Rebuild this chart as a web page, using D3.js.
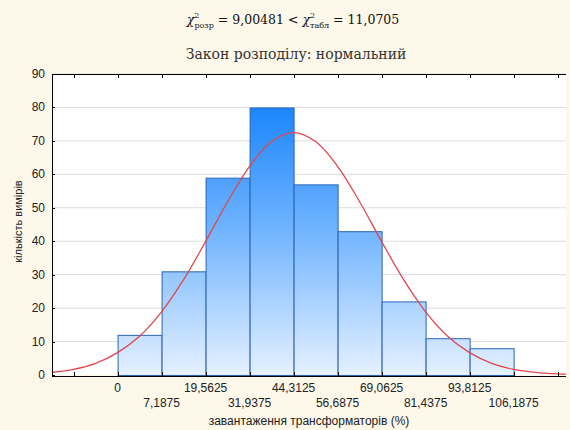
<!DOCTYPE html>
<html>
<head>
<meta charset="utf-8">
<script src="https://cdn.jsdelivr.net/npm/d3@7/dist/d3.min.js"></script>
<style>
  body { margin: 0; background: #fdf8ea; }
  svg { display: block; }
</style>
</head>
<body>
<div id="chart"></div>
<script>
// bin edges (labels as printed under the axis), counts per bin
const edgeLabels = ['0', '7,1875', '19,5625', '31,9375', '44,3125', '56,6875', '69,0625', '81,4375', '93,8125', '106,1875'];
const counts = [12, 31, 59, 80, 57, 43, 22, 11, 8];
// fitted normal curve (x in bin-edge units)
const fitX = [-1.5, -1, -0.5, 0, 0.5, 1, 1.5, 2, 2.5, 3, 3.5, 4, 4.5, 5, 5.5, 6, 6.5, 7, 7.5, 8, 8.5, 9, 9.5, 10, 10.5];
const fitY = [0.8, 1.7, 3.5, 6.7, 11.6, 18.9, 28.5, 39.9, 51.8, 62.4, 69.8, 72.5, 69.8, 62.4, 51.8, 39.9, 28.5, 18.9, 11.6, 6.7, 3.5, 1.7, 0.8, 0.34, 0.13];
const yTicks = [0, 10, 20, 30, 40, 50, 60, 70, 80, 90];

const W = 570, H = 430;
const pLeft = 52, pRight = 566, pTop = 74, pBottom = 375;

const svg = d3.select('#chart').append('svg')
    .attr('width', W)
    .attr('height', H);

const x = d3.scaleLinear().domain([-1.49, 10.19]).range([pLeft, pRight]);
const y = d3.scaleLinear().domain([0, 90]).range([pBottom, pTop]);

const defs = svg.append('defs');
const grad = defs.append('linearGradient')
    .attr('id', 'barGrad')
    .attr('gradientUnits', 'userSpaceOnUse')
    .attr('x1', 0).attr('x2', 0)
    .attr('y1', y(80)).attr('y2', y(0));
grad.append('stop').attr('offset', 0).attr('stop-color', '#1c86fb');
grad.append('stop').attr('offset', 0.45).attr('stop-color', '#6fb3ff');
grad.append('stop').attr('offset', 1).attr('stop-color', '#e4f1ff');

defs.append('clipPath').attr('id', 'plotClip')
    .append('rect')
    .attr('x', pLeft).attr('y', pTop)
    .attr('width', pRight - pLeft).attr('height', pBottom - pTop);

// plot background
svg.append('rect')
    .attr('x', pLeft).attr('y', pTop)
    .attr('width', pRight - pLeft).attr('height', pBottom - pTop)
    .attr('fill', '#ffffff');

// gridlines
svg.append('g').selectAll('line')
    .data(yTicks.slice(1))
    .enter().append('line')
    .attr('x1', pLeft).attr('x2', pRight)
    .attr('y1', d => y(d)).attr('y2', d => y(d))
    .attr('stroke', '#dcdcdc')
    .attr('stroke-width', 1);

// bars
svg.append('g').selectAll('rect')
    .data(counts)
    .enter().append('rect')
    .attr('x', (d, i) => x(i) + 0.5)
    .attr('y', d => y(d) + 0.5)
    .attr('width', (d, i) => x(i + 1) - x(i))
    .attr('height', d => y(0) - y(d))
    .attr('fill', 'url(#barGrad)')
    .attr('stroke', '#2b63b5')
    .attr('stroke-width', 1);

// normal curve
const line = d3.line()
    .x((d, i) => x(fitX[i]))
    .y(d => y(d))
    .curve(d3.curveCatmullRom);

svg.append('path')
    .datum(fitY)
    .attr('clip-path', 'url(#plotClip)')
    .attr('d', line)
    .attr('fill', 'none')
    .attr('stroke', '#e0474c')
    .attr('stroke-width', 1.3);

// axes lines
const axisG = svg.append('g').attr('stroke', '#000').attr('shape-rendering', 'crispEdges');
axisG.append('line').attr('x1', pLeft).attr('x2', pLeft).attr('y1', pTop).attr('y2', pBottom + 1);
axisG.append('line').attr('x1', pLeft).attr('x2', pRight).attr('y1', pTop).attr('y2', pTop);
axisG.append('line').attr('x1', pLeft).attr('x2', pRight).attr('y1', pBottom + 1).attr('y2', pBottom + 1);

const xTickPos = d3.range(-1, 11);
axisG.selectAll('.tb').data(xTickPos).enter().append('line')
    .attr('x1', d => Math.round(x(d))).attr('x2', d => Math.round(x(d)))
    .attr('y1', pBottom + 1).attr('y2', pBottom - 3);
axisG.selectAll('.tt').data(xTickPos).enter().append('line')
    .attr('x1', d => Math.round(x(d))).attr('x2', d => Math.round(x(d)))
    .attr('y1', pTop).attr('y2', pTop + 4);
axisG.selectAll('.ty').data(yTicks).enter().append('line')
    .attr('x1', pLeft).attr('x2', pLeft + 3)
    .attr('y1', d => Math.round(y(d))).attr('y2', d => Math.round(y(d)));

// y tick labels
svg.append('g').selectAll('text')
    .data(yTicks)
    .enter().append('text')
    .attr('x', pLeft - 7)
    .attr('y', d => y(d) + 4)
    .attr('text-anchor', 'end')
    .attr('fill', '#222')
    .style('font-family', 'Liberation Sans, Arial, sans-serif')
    .style('font-size', '12px')
    .text(d => d);

// x tick labels, staggered in two rows
svg.append('g').selectAll('text')
    .data(edgeLabels)
    .enter().append('text')
    .attr('x', (d, i) => x(i))
    .attr('y', (d, i) => i % 2 === 0 ? 392 : 407)
    .attr('text-anchor', 'middle')
    .attr('fill', '#222')
    .style('font-family', 'Liberation Sans, Arial, sans-serif')
    .style('font-size', '12px')
    .text(d => d);

// axis titles
svg.append('text')
    .attr('x', (pLeft + pRight) / 2)
    .attr('y', 425)
    .attr('text-anchor', 'middle')
    .attr('fill', '#222')
    .style('font-family', 'Liberation Sans, Arial, sans-serif')
    .style('font-size', '12px')
    .text('завантаження трансформаторів (%)');

svg.append('text')
    .attr('transform', `translate(22, ${(pTop + pBottom) / 2 - 3}) rotate(-90)`)
    .attr('text-anchor', 'middle')
    .attr('fill', '#222')
    .style('font-family', 'Liberation Sans, Arial, sans-serif')
    .style('font-size', '11px')
    .text('кількість вимірів');

// chart title
svg.append('text')
    .attr('x', 296)
    .attr('y', 59)
    .attr('text-anchor', 'middle')
    .attr('fill', '#333')
    .style('font-family', 'DejaVu Serif, Liberation Serif, serif')
    .style('font-size', '14px')
    .text('Закон розподілу: нормальний');

// chi-square formula
const f = svg.append('text')
    .attr('x', 293)
    .attr('y', 24)
    .attr('text-anchor', 'middle')
    .attr('fill', '#111')
    .style('font-family', 'DejaVu Serif, Liberation Serif, serif')
    .style('font-size', '12.5px');
f.append('tspan').style('font-style', 'italic').text('χ');
f.append('tspan').attr('dy', -6).style('font-size', '8px').text('2');
f.append('tspan').attr('dx', -5).attr('dy', 10).style('font-size', '8px').text('розр');
f.append('tspan').attr('dy', -4).text(' = 9,00481 < ');
f.append('tspan').style('font-style', 'italic').text('χ');
f.append('tspan').attr('dy', -6).style('font-size', '8px').text('2');
f.append('tspan').attr('dx', -5).attr('dy', 10).style('font-size', '8px').text('табл');
f.append('tspan').attr('dy', -4).text(' = 11,0705');
</script>
</body>
</html>
